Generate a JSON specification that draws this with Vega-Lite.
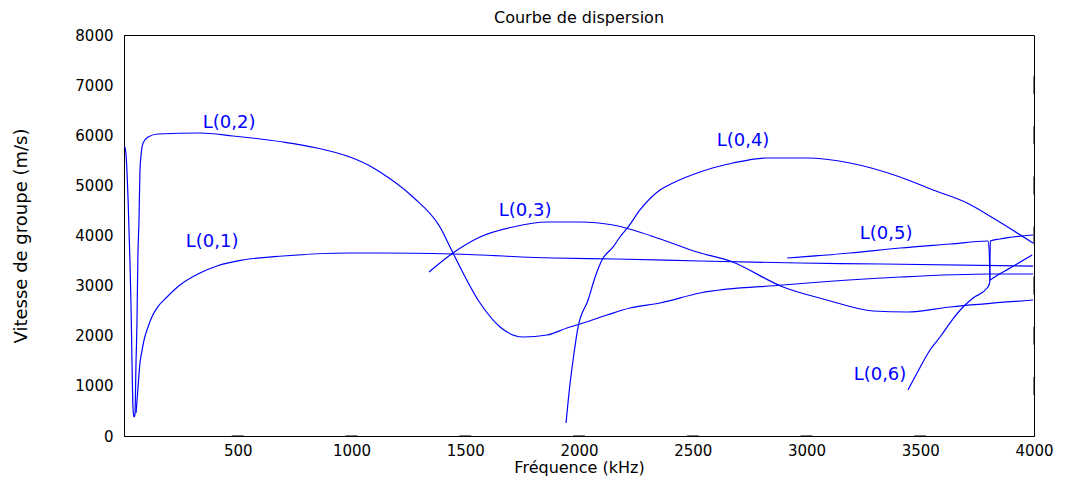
{
  "$schema": "https://vega.github.io/schema/vega-lite/v6.json",
  "autosize": {"type": "none"},
  "width": 910,
  "height": 401,
  "padding": {"left": 124, "top": 35, "right": 32, "bottom": 46},
  "background": "white",
  "title": {
    "text": "Courbe de dispersion",
    "font": "DejaVu Sans",
    "fontSize": 16,
    "fontWeight": "normal",
    "color": "black",
    "offset": 2
  },
  "config": {
    "view": {"stroke": "black", "strokeWidth": 1},
    "axis": {
      "domainColor": "black",
      "grid": false,
      "labelFlush": false,
      "format": "d",
      "labelFont": "DejaVu Sans",
      "labelFontSize": 15,
      "labelColor": "black",
      "titleFont": "DejaVu Sans",
      "titleFontSize": 16,
      "titleFontWeight": "normal",
      "titleColor": "black"
    }
  },
  "datasets": {
    "curves": [
      {"mode": "L(0,1)", "f": 53, "v": 459},
      {"mode": "L(0,1)", "f": 62, "v": 1000},
      {"mode": "L(0,1)", "f": 70, "v": 1450},
      {"mode": "L(0,1)", "f": 79, "v": 1700},
      {"mode": "L(0,1)", "f": 90, "v": 1950},
      {"mode": "L(0,1)", "f": 101, "v": 2115},
      {"mode": "L(0,1)", "f": 127, "v": 2420},
      {"mode": "L(0,1)", "f": 149, "v": 2580},
      {"mode": "L(0,1)", "f": 189, "v": 2773},
      {"mode": "L(0,1)", "f": 246, "v": 3012},
      {"mode": "L(0,1)", "f": 334, "v": 3252},
      {"mode": "L(0,1)", "f": 409, "v": 3392},
      {"mode": "L(0,1)", "f": 523, "v": 3511},
      {"mode": "L(0,1)", "f": 699, "v": 3591},
      {"mode": "L(0,1)", "f": 993, "v": 3651},
      {"mode": "L(0,1)", "f": 1125, "v": 3651},
      {"mode": "L(0,1)", "f": 1446, "v": 3631},
      {"mode": "L(0,1)", "f": 1886, "v": 3551},
      {"mode": "L(0,1)", "f": 2164, "v": 3531},
      {"mode": "L(0,1)", "f": 2532, "v": 3491},
      {"mode": "L(0,1)", "f": 2972, "v": 3451},
      {"mode": "L(0,1)", "f": 3337, "v": 3431},
      {"mode": "L(0,1)", "f": 3996, "v": 3391},

      {"mode": "L(0,2)", "f": 4, "v": 5766},
      {"mode": "L(0,2)", "f": 9, "v": 5606},
      {"mode": "L(0,2)", "f": 18, "v": 4708},
      {"mode": "L(0,2)", "f": 26, "v": 3511},
      {"mode": "L(0,2)", "f": 31, "v": 2574},
      {"mode": "L(0,2)", "f": 35, "v": 1516},
      {"mode": "L(0,2)", "f": 40, "v": 519},
      {"mode": "L(0,2)", "f": 44, "v": 379},
      {"mode": "L(0,2)", "f": 48, "v": 420},
      {"mode": "L(0,2)", "f": 53, "v": 1500},
      {"mode": "L(0,2)", "f": 57, "v": 2254},
      {"mode": "L(0,2)", "f": 61, "v": 3571},
      {"mode": "L(0,2)", "f": 66, "v": 4309},
      {"mode": "L(0,2)", "f": 70, "v": 5267},
      {"mode": "L(0,2)", "f": 75, "v": 5606},
      {"mode": "L(0,2)", "f": 84, "v": 5845},
      {"mode": "L(0,2)", "f": 106, "v": 5965},
      {"mode": "L(0,2)", "f": 149, "v": 6025},
      {"mode": "L(0,2)", "f": 334, "v": 6045},
      {"mode": "L(0,2)", "f": 479, "v": 5985},
      {"mode": "L(0,2)", "f": 699, "v": 5865},
      {"mode": "L(0,2)", "f": 848, "v": 5746},
      {"mode": "L(0,2)", "f": 993, "v": 5566},
      {"mode": "L(0,2)", "f": 1081, "v": 5387},
      {"mode": "L(0,2)", "f": 1125, "v": 5267},
      {"mode": "L(0,2)", "f": 1270, "v": 4768},
      {"mode": "L(0,2)", "f": 1389, "v": 4170},
      {"mode": "L(0,2)", "f": 1446, "v": 3651},
      {"mode": "L(0,2)", "f": 1565, "v": 2653},
      {"mode": "L(0,2)", "f": 1653, "v": 2175},
      {"mode": "L(0,2)", "f": 1754, "v": 1975},
      {"mode": "L(0,2)", "f": 1860, "v": 2015},
      {"mode": "L(0,2)", "f": 1947, "v": 2155},
      {"mode": "L(0,2)", "f": 2018, "v": 2254},
      {"mode": "L(0,2)", "f": 2123, "v": 2414},
      {"mode": "L(0,2)", "f": 2224, "v": 2554},
      {"mode": "L(0,2)", "f": 2356, "v": 2653},
      {"mode": "L(0,2)", "f": 2532, "v": 2853},
      {"mode": "L(0,2)", "f": 2897, "v": 3012},
      {"mode": "L(0,2)", "f": 3411, "v": 3172},
      {"mode": "L(0,2)", "f": 3807, "v": 3232},
      {"mode": "L(0,2)", "f": 3996, "v": 3232},

      {"mode": "L(0,3)", "f": 1341, "v": 3272},
      {"mode": "L(0,3)", "f": 1446, "v": 3651},
      {"mode": "L(0,3)", "f": 1565, "v": 3970},
      {"mode": "L(0,3)", "f": 1710, "v": 4170},
      {"mode": "L(0,3)", "f": 1860, "v": 4269},
      {"mode": "L(0,3)", "f": 2005, "v": 4269},
      {"mode": "L(0,3)", "f": 2150, "v": 4209},
      {"mode": "L(0,3)", "f": 2370, "v": 3910},
      {"mode": "L(0,3)", "f": 2519, "v": 3671},
      {"mode": "L(0,3)", "f": 2664, "v": 3491},
      {"mode": "L(0,3)", "f": 2897, "v": 2973},
      {"mode": "L(0,3)", "f": 3090, "v": 2713},
      {"mode": "L(0,3)", "f": 3293, "v": 2494},
      {"mode": "L(0,3)", "f": 3442, "v": 2474},
      {"mode": "L(0,3)", "f": 3631, "v": 2574},
      {"mode": "L(0,3)", "f": 3996, "v": 2713},

      {"mode": "L(0,4)", "f": 1943, "v": 259},
      {"mode": "L(0,4)", "f": 1961, "v": 1057},
      {"mode": "L(0,4)", "f": 1974, "v": 1516},
      {"mode": "L(0,4)", "f": 1996, "v": 2175},
      {"mode": "L(0,4)", "f": 2040, "v": 2713},
      {"mode": "L(0,4)", "f": 2071, "v": 3172},
      {"mode": "L(0,4)", "f": 2101, "v": 3511},
      {"mode": "L(0,4)", "f": 2150, "v": 3771},
      {"mode": "L(0,4)", "f": 2180, "v": 3970},
      {"mode": "L(0,4)", "f": 2216, "v": 4170},
      {"mode": "L(0,4)", "f": 2268, "v": 4509},
      {"mode": "L(0,4)", "f": 2356, "v": 4908},
      {"mode": "L(0,4)", "f": 2413, "v": 5047},
      {"mode": "L(0,4)", "f": 2532, "v": 5267},
      {"mode": "L(0,4)", "f": 2677, "v": 5446},
      {"mode": "L(0,4)", "f": 2827, "v": 5546},
      {"mode": "L(0,4)", "f": 3002, "v": 5546},
      {"mode": "L(0,4)", "f": 3191, "v": 5446},
      {"mode": "L(0,4)", "f": 3411, "v": 5167},
      {"mode": "L(0,4)", "f": 3556, "v": 4908},
      {"mode": "L(0,4)", "f": 3706, "v": 4648},
      {"mode": "L(0,4)", "f": 3820, "v": 4349},
      {"mode": "L(0,4)", "f": 3996, "v": 3850},

      {"mode": "L(0,5)", "f": 2915, "v": 3551},
      {"mode": "L(0,5)", "f": 3191, "v": 3651},
      {"mode": "L(0,5)", "f": 3411, "v": 3751},
      {"mode": "L(0,5)", "f": 3631, "v": 3830},
      {"mode": "L(0,5)", "f": 3798, "v": 3890},
      {"mode": "L(0,5)", "f": 3803, "v": 3711},
      {"mode": "L(0,5)", "f": 3807, "v": 3112},
      {"mode": "L(0,5)", "f": 3820, "v": 3152},
      {"mode": "L(0,5)", "f": 3895, "v": 3352},
      {"mode": "L(0,5)", "f": 3992, "v": 3611},

      {"mode": "L(0,6)", "f": 3446, "v": 918},
      {"mode": "L(0,6)", "f": 3486, "v": 1257},
      {"mode": "L(0,6)", "f": 3543, "v": 1716},
      {"mode": "L(0,6)", "f": 3587, "v": 1975},
      {"mode": "L(0,6)", "f": 3640, "v": 2314},
      {"mode": "L(0,6)", "f": 3684, "v": 2554},
      {"mode": "L(0,6)", "f": 3732, "v": 2753},
      {"mode": "L(0,6)", "f": 3794, "v": 2953},
      {"mode": "L(0,6)", "f": 3805, "v": 3052},
      {"mode": "L(0,6)", "f": 3808, "v": 3890},
      {"mode": "L(0,6)", "f": 3850, "v": 3930},
      {"mode": "L(0,6)", "f": 3996, "v": 4010}
    ],
    "labels": [
      {"mode": "L(0,1)", "f": 387, "v": 3870},
      {"mode": "L(0,2)", "f": 462, "v": 6245},
      {"mode": "L(0,3)", "f": 1763, "v": 4489},
      {"mode": "L(0,4)", "f": 2721, "v": 5885},
      {"mode": "L(0,5)", "f": 3350, "v": 4030},
      {"mode": "L(0,6)", "f": 3323, "v": 1217}
    ],
    "frequencyTicks": [
      {"f": 500, "v": 0}, {"f": 1000, "v": 0}, {"f": 1500, "v": 0}, {"f": 2000, "v": 0},
      {"f": 2500, "v": 0}, {"f": 3000, "v": 0}, {"f": 3500, "v": 0},
      {"f": 500, "v": 8000}, {"f": 1000, "v": 8000}, {"f": 1500, "v": 8000}, {"f": 2000, "v": 8000},
      {"f": 2500, "v": 8000}, {"f": 3000, "v": 8000}, {"f": 3500, "v": 8000}
    ],
    "velocityTicks": [
      {"f": 0, "v": 1000}, {"f": 0, "v": 2000}, {"f": 0, "v": 3000}, {"f": 0, "v": 4000},
      {"f": 0, "v": 5000}, {"f": 0, "v": 6000}, {"f": 0, "v": 7000},
      {"f": 4000, "v": 1000}, {"f": 4000, "v": 2000}, {"f": 4000, "v": 3000}, {"f": 4000, "v": 4000},
      {"f": 4000, "v": 5000}, {"f": 4000, "v": 6000}, {"f": 4000, "v": 7000}
    ]
  },
  "layer": [
    {
      "data": {"name": "curves"},
      "mark": {"type": "line", "color": "#0000ff", "strokeWidth": 1.2, "interpolate": "monotone"},
      "encoding": {
        "detail": {"field": "mode", "type": "nominal"},
        "x": {
          "field": "f",
          "type": "quantitative",
          "scale": {"domain": [0, 4000], "nice": false, "zero": false},
          "axis": {
            "orient": "bottom",
            "values": [500, 1000, 1500, 2000, 2500, 3000, 3500, 4000],
            "ticks": false,
            "labelPadding": 7,
            "title": "Fréquence (kHz)",
            "titlePadding": 1
          }
        },
        "y": {
          "field": "v",
          "type": "quantitative",
          "scale": {"domain": [0, 8000], "nice": false, "zero": false},
          "axis": {
            "orient": "left",
            "values": [0, 1000, 2000, 3000, 4000, 5000, 6000, 7000, 8000],
            "ticks": false,
            "labelPadding": 11,
            "title": "Vitesse de groupe (m/s)",
            "titleFontSize": 18,
            "titlePadding": 44
          }
        }
      }
    },
    {
      "data": {"name": "labels"},
      "mark": {
        "type": "text",
        "color": "#0000ff",
        "font": "DejaVu Sans",
        "fontSize": 18,
        "align": "center",
        "baseline": "middle"
      },
      "encoding": {
        "text": {"field": "mode", "type": "nominal"},
        "x": {"field": "f", "type": "quantitative", "scale": {"domain": [0, 4000], "nice": false, "zero": false}, "axis": null},
        "y": {"field": "v", "type": "quantitative", "scale": {"domain": [0, 8000], "nice": false, "zero": false}, "axis": null}
      }
    },
    {
      "data": {"name": "frequencyTicks"},
      "mark": {"type": "tick", "orient": "horizontal", "size": 12, "thickness": 1, "color": "black", "opacity": 1, "clip": true},
      "encoding": {
        "x": {"field": "f", "type": "quantitative", "scale": {"domain": [0, 4000], "nice": false, "zero": false}, "axis": null},
        "y": {"field": "v", "type": "quantitative", "scale": {"domain": [0, 8000], "nice": false, "zero": false}, "axis": null}
      }
    },
    {
      "data": {"name": "velocityTicks"},
      "mark": {"type": "tick", "orient": "vertical", "size": 18, "thickness": 1, "color": "black", "opacity": 1, "clip": true},
      "encoding": {
        "x": {"field": "f", "type": "quantitative", "scale": {"domain": [0, 4000], "nice": false, "zero": false}, "axis": null},
        "y": {"field": "v", "type": "quantitative", "scale": {"domain": [0, 8000], "nice": false, "zero": false}, "axis": null}
      }
    }
  ],
  "resolve": {"axis": {"x": "independent", "y": "independent"}}
}
